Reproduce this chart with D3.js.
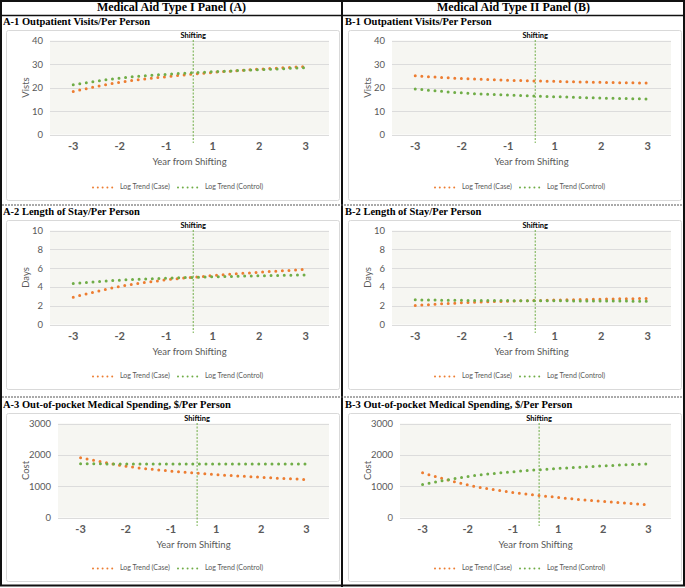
<!DOCTYPE html>
<html>
<head>
<meta charset="utf-8">
<script src="https://cdn.jsdelivr.net/npm/d3@7"></script>
<style>
body { margin: 0; background: #fff; }
svg { display: block; }
</style>
</head>
<body>
<div id="chart"></div>
<script>
// categories on the x axis (there is no year 0)
var years = ["-3", "-2", "-1", "1", "2", "3"];

// log trend values, one per year
var visitsCaseA = [18.3, 22.2, 24.6, 26.4, 27.8, 28.9];
var visitsCtrlA = [21.2, 24.0, 25.6, 26.7, 27.6, 28.4];
var visitsCaseB = [25.0, 23.8, 23.1, 22.6, 22.2, 21.9];
var visitsCtrlB = [19.4, 17.7, 16.8, 16.1, 15.5, 15.1];

var stayCaseA = [2.9, 4.05, 4.75, 5.2, 5.56, 5.86];
var stayCtrlA = [4.36, 4.72, 4.92, 5.07, 5.18, 5.28];
var stayCaseB = [2.02, 2.31, 2.48, 2.6, 2.7, 2.77];
var stayCtrlB = [2.62, 2.57, 2.54, 2.52, 2.5, 2.48];

var costCaseA = [1908, 1640, 1480, 1370, 1282, 1211];
var costCtrlA = [1712, 1711, 1710, 1709, 1708, 1707];
var costCaseB = [1425, 1040, 800, 640, 511, 407];
var costCtrlB = [1050, 1307, 1460, 1564, 1647, 1715];

var visitTicks = [0, 10, 20, 30, 40];
var stayTicks = [0, 2, 4, 6, 8, 10];
var costTicks = [0, 1000, 2000, 3000];

var panelHeads = ["Medical Aid Type I Panel (A)", "Medical Aid Type II Panel (B)"];
var legendNames = ["Log Trend (Case)", "Log Trend (Control)"];
var shiftAt = 3.08; // position of the "Shifting" marker, in year slots from the left

var W = 685, H = 588;
var orange = "#ED7D31", green = "#70AD47";
var sans = "Lato, 'Open Sans', sans-serif";
var serif = "'Liberation Serif', 'Times New Roman', serif";

var panels = [
  {col: 0, row: 0, title: "A-1 Outpatient Visits/Per Person", ytitle: "Vists", ticks: visitTicks, caseV: visitsCaseA, ctrlV: visitsCtrlA},
  {col: 1, row: 0, title: "B-1 Outpatient Visits/Per Person", ytitle: "Vists", ticks: visitTicks, caseV: visitsCaseB, ctrlV: visitsCtrlB},
  {col: 0, row: 1, title: "A-2 Length of Stay/Per Person", ytitle: "Days", ticks: stayTicks, caseV: stayCaseA, ctrlV: stayCtrlA},
  {col: 1, row: 1, title: "B-2 Length of Stay/Per Person", ytitle: "Days", ticks: stayTicks, caseV: stayCaseB, ctrlV: stayCtrlB},
  {col: 0, row: 2, title: "A-3 Out-of-pocket Medical Spending, $/Per Person", ytitle: "Cost", ticks: costTicks, caseV: costCaseA, ctrlV: costCtrlA},
  {col: 1, row: 2, title: "B-3 Out-of-pocket Medical Spending, $/Per Person", ytitle: "Cost", ticks: costTicks, caseV: costCaseB, ctrlV: costCtrlB}
];

var colX = [6, 348];
var rowY = [30, 220, 413];
var rowH = [170, 169, 168];
var boxW = 333;

var svg = d3.select("#chart").append("svg")
  .attr("width", W)
  .attr("height", H);

// frame
svg.append("rect")
  .attr("x", 1).attr("y", 1).attr("width", 683).attr("height", 584.5)
  .attr("fill", "none").attr("stroke", "#111").attr("stroke-width", 2);
svg.append("line")
  .attr("x1", 0).attr("x2", W).attr("y1", 15.5).attr("y2", 15.5)
  .attr("stroke", "#111").attr("stroke-width", 1.5);
svg.append("line")
  .attr("x1", 342).attr("x2", 342).attr("y1", 0).attr("y2", 587)
  .attr("stroke", "#111").attr("stroke-width", 2);
[205, 397].forEach(function (y) {
  svg.append("line")
    .attr("x1", 2).attr("x2", 683).attr("y1", y).attr("y2", y)
    .attr("stroke", "#555").attr("stroke-width", 1).attr("stroke-dasharray", "2,1");
});

panelHeads.forEach(function (t, i) {
  svg.append("text")
    .attr("x", 171.5 + i * 342).attr("y", 8.5)
    .attr("text-anchor", "middle").attr("dominant-baseline", "middle")
    .style("font-family", serif).style("font-weight", "bold").style("font-size", "12px")
    .text(t);
});

panels.forEach(function (p) {
  var bx = colX[p.col], by = rowY[p.row], bh = rowH[p.row];

  svg.append("text")
    .attr("x", bx - 3).attr("y", by - 7.5)
    .attr("dominant-baseline", "middle")
    .style("font-family", serif).style("font-weight", "bold").style("font-size", "10.5px")
    .text(p.title);

  var g = svg.append("g").attr("transform", "translate(" + bx + "," + by + ")");

  g.append("rect")
    .attr("x", 0.5).attr("y", 0.5).attr("width", boxW).attr("height", bh)
    .attr("rx", 2)
    .attr("fill", "#fff").attr("stroke", "#d9d9d9").attr("stroke-width", 1);

  var wide = d3.max(p.ticks) >= 1000;
  var left = wide ? 52 : 44, right = 323, top = 10.5, bottom = 104.5;

  var x = d3.scaleBand().domain(years).range([left, right]);
  var slot = d3.scaleLinear().domain([0, years.length]).range([left, right]);
  var y = d3.scaleLinear().domain([0, d3.max(p.ticks)]).range([bottom, top]);

  g.append("rect")
    .attr("x", left).attr("y", top).attr("width", right - left).attr("height", bottom - top)
    .attr("fill", "#f6f6f2");

  g.append("g")
    .selectAll("line")
    .data(p.ticks)
    .enter()
    .append("line")
      .attr("x1", left).attr("x2", right)
      .attr("y1", function (d) { return Math.round(y(d)) + 0.5; })
      .attr("y2", function (d) { return Math.round(y(d)) + 0.5; })
      .attr("stroke", "#dcdcdc").attr("stroke-width", 1);

  var yAxis = g.append("g")
    .attr("transform", "translate(" + left + ",0)")
    .call(d3.axisLeft(y).tickValues(p.ticks).tickFormat(d3.format("d")).tickSize(0).tickPadding(7));
  yAxis.select(".domain").remove();
  yAxis.selectAll("text")
    .style("font-family", sans).style("font-size", "9.5px").attr("fill", "#595959");

  var xAxis = g.append("g")
    .attr("transform", "translate(0," + bottom + ")")
    .call(d3.axisBottom(x).tickSize(0).tickPadding(8));
  xAxis.select(".domain").remove();
  xAxis.selectAll("text")
    .style("font-family", sans).style("font-size", "11px").style("font-weight", "bold")
    .attr("fill", "#595959");

  g.append("text")
    .attr("x", (left + right) / 2).attr("y", 133)
    .attr("text-anchor", "middle").attr("dominant-baseline", "middle")
    .style("font-family", sans).style("font-size", "9.5px").attr("fill", "#595959")
    .text("Year from Shifting");

  g.append("text")
    .attr("transform", "translate(21," + (top + bottom) / 2 + ") rotate(-90)")
    .attr("text-anchor", "middle").attr("dominant-baseline", "middle")
    .style("font-family", sans).style("font-size", "9.5px").attr("fill", "#595959")
    .text(p.ytitle);

  // shifting marker
  var sx = slot(shiftAt);
  g.append("line")
    .attr("x1", sx).attr("x2", sx).attr("y1", 10).attr("y2", 113)
    .attr("stroke", green).attr("stroke-width", 1).attr("stroke-dasharray", "2,1.5");
  g.append("text")
    .attr("x", sx).attr("y", 6)
    .attr("text-anchor", "middle").attr("dominant-baseline", "middle")
    .style("font-family", sans).style("font-size", "7.5px").style("font-weight", "bold")
    .text("Shifting");

  var line = d3.line()
    .x(function (d, i) { return x(years[i]) + x.bandwidth() / 2; })
    .y(function (d) { return y(d); })
    .curve(d3.curveMonotoneX);

  [[p.caseV, orange], [p.ctrlV, green]].forEach(function (s) {
    g.append("path")
      .datum(s[0])
      .attr("d", line)
      .attr("fill", "none")
      .attr("stroke", s[1])
      .attr("stroke-width", 3)
      .attr("stroke-linecap", "round")
      .attr("stroke-dasharray", "0,6.6");
  });

  // legend
  var ly = bh - 12.5;
  [[87, orange, legendNames[0]], [172, green, legendNames[1]]].forEach(function (l) {
    g.append("line")
      .attr("x1", l[0]).attr("x2", l[0] + 24).attr("y1", ly).attr("y2", ly)
      .attr("stroke", l[1]).attr("stroke-width", 2)
      .attr("stroke-linecap", "round").attr("stroke-dasharray", "0,4.8");
    g.append("text")
      .attr("x", l[0] + 27).attr("y", ly)
      .attr("dominant-baseline", "middle")
      .style("font-family", sans).style("font-size", "7px").attr("fill", "#595959")
      .text(l[2]);
  });
});
</script>
</body>
</html>
